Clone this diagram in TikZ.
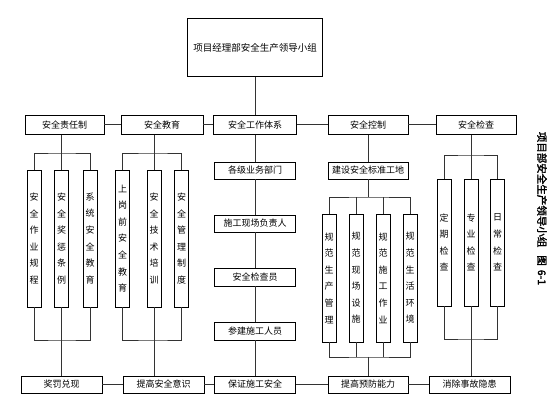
\documentclass[tikz,border=0pt]{standalone}
\usepackage{fontspec}
\newfontfamily\cjk{Noto Sans CJK SC}
\newfontfamily\cjkb[FakeBold=2]{Noto Sans CJK SC}
\begin{document}
\begin{tikzpicture}[x=1pt,y=-1pt,
 bx/.style={draw=black, line width=0.8pt, inner sep=0pt, font=\cjk\fontsize{9}{10}\selectfont, fill=white},
 hb/.style={bx, minimum height=17pt, minimum width=81pt},
 rowb/.style={bx, minimum height=19pt},
 tall/.style={bx, minimum width=14pt, align=center, font=\cjk\fontsize{9}{16.6}\selectfont},
 ln/.style={draw=black!80, line width=0.8pt}]
\useasboundingbox (0,0) rectangle (560,411);
% top
\node[bx, minimum width=135pt, minimum height=58pt, font=\cjk\fontsize{9.5}{11}\selectfont] (top) at (255,47.7) {项目经理部安全生产领导小组};
% row 2
\node[rowb, minimum width=79pt] (zr) at (64.5,124.8) {安全责任制};
\node[rowb, minimum width=82pt] (jy) at (162,124.8) {安全教育};
\node[rowb, minimum width=83pt] (tx) at (255,124.8) {安全工作体系};
\node[rowb, minimum width=80pt] (kz) at (368,124.8) {安全控制};
\node[rowb, minimum width=80pt] (jc) at (476,124.8) {安全检查};
% column 1
\node[tall, minimum height=137pt] (a1) at (34,238.5) {安\\全\\作\\业\\规\\程};
\node[tall, minimum height=137pt] (a2) at (61.5,238.5) {安\\全\\奖\\惩\\条\\例};
\node[tall, minimum height=137pt] (a3) at (90,238.5) {系\\统\\安\\全\\教\\育};
% column 2
\node[tall, minimum height=137pt] (b1) at (122.5,238.5) {上\\岗\\前\\安\\全\\教\\育};
\node[tall, minimum height=137pt] (b2) at (154,238.5) {安\\全\\技\\术\\培\\训};
\node[tall, minimum height=137pt] (b3) at (181.5,238.5) {安\\全\\管\\理\\制\\度};
% centre column
\node[hb] (gm) at (255,170.5) {各级业务部门};
\node[hb] (fz) at (255,223.5) {施工现场负责人};
\node[hb, minimum height=18pt] (jcy) at (255,277) {安全检查员};
\node[hb, minimum height=18pt] (cj) at (255,331) {参建施工人员};
% control column
\node[hb, minimum width=80pt] (gd) at (368,170.5) {建设安全标准工地};
\node[tall, minimum height=128pt] (c1) at (329,278) {规\\范\\生\\产\\管\\理};
\node[tall, minimum height=128pt] (c2) at (356,278) {规\\范\\现\\场\\设\\施};
\node[tall, minimum height=128pt] (c3) at (383,278) {规\\范\\施\\工\\作\\业};
\node[tall, minimum height=128pt] (c4) at (410,278) {规\\范\\生\\活\\环\\境};
% check column
\node[tall, minimum height=127pt] (d1) at (444,242.5) {定\\期\\检\\查};
\node[tall, minimum height=127pt] (d2) at (471,242.5) {专\\业\\检\\查};
\node[tall, minimum height=127pt] (d3) at (497.5,242.5) {日\\常\\检\\查};
% bottom row
\node[hb] (jf) at (61.5,384.5) {奖罚兑现};
\node[hb] (ys) at (163.5,384.5) {提高安全意识};
\node[hb] (bz) at (255,384.5) {保证施工安全};
\node[hb, minimum width=80pt] (yf) at (368,384.5) {提高预防能力};
\node[hb] (xc) at (469.5,384.5) {消除事故隐患};
% side caption
\node[rotate=-90, inner sep=0pt, font=\cjkb\fontsize{10.5}{12}\selectfont] (side) at (542,208.5) {项目部安全生产领导小组\hspace{8pt}图\hspace{4pt}6-1};
% branch coordinates
\coordinate (ba) at (61.5,153);
\coordinate (ca) at (61.5,340);
\coordinate (bb) at (154,153);
\coordinate (cb) at (154,340);
\coordinate (bc) at (368,197);
\coordinate (cc) at (368,357);
\coordinate (bd) at (471,155);
\coordinate (cd) at (471,339);
% connectors
\draw[ln] (top.south) -- (top.south |- tx.north);
\draw[ln] (zr) -- (jy);
\draw[ln] (jy) -- (tx);
\draw[ln] (tx) -- (kz);
\draw[ln] (kz) -- (jc);
% col 1
\draw[ln] (zr.south -| a2.north) -- (a2.north);
\draw[ln] (a1.north) |- (ba) -| (a3.north);
\draw[ln] (a1.south) |- (ca) -| (a3.south);
\draw[ln] (a2.south) -- (jf.north -| a2.south);
% col 2
\draw[ln] (jy.south -| b2.north) -- (b2.north);
\draw[ln] (b1.north) |- (bb) -| (b3.north);
\draw[ln] (b1.south) |- (cb) -| (b3.south);
\draw[ln] (b2.south) -- (ys.north -| b2.south);
% centre
\draw[ln] (tx) -- (gm);
\draw[ln] (gm) -- (fz);
\draw[ln] (fz) -- (jcy);
\draw[ln] (jcy) -- (cj);
\draw[ln] (cj) -- (bz);
% control
\draw[ln] (kz) -- (gd);
\draw[ln] (gd.south) -- (bc);
\draw[ln] (c1.north) |- (bc) -| (c4.north);
\draw[ln] (c2.north) -- (c2.north |- bc);
\draw[ln] (c3.north) -- (c3.north |- bc);
\draw[ln] (c1.south) |- (cc) -| (c4.south);
\draw[ln] (c2.south) -- (c2.south |- cc);
\draw[ln] (c3.south) -- (c3.south |- cc);
\draw[ln] (cc) -- (yf.north);
% check
\draw[ln] (jc.south -| d2.north) -- (d2.north);
\draw[ln] (d1.north) |- (bd) -| (d3.north);
\draw[ln] (d1.south) |- (cd) -| (d3.south);
\draw[ln] (d2.south) -- (xc.north -| d2.south);
% bottom
\draw[ln] (jf) -- (ys);
\draw[ln] (ys) -- (bz);
\draw[ln] (bz) -- (yf);
\draw[ln] (yf) -- (xc);
\end{tikzpicture}
\end{document}
